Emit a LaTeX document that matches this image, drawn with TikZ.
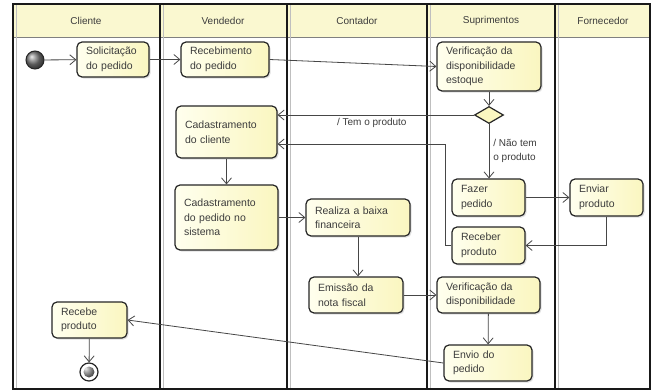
\documentclass[tikz,border=0pt]{standalone}
\usepackage{fontspec}
\setmainfont{Liberation Sans}
\usetikzlibrary{arrows.meta,shapes.geometric,shadows}

\definecolor{laneline}{RGB}{25,25,25}
\definecolor{headfill}{RGB}{250,248,208}
\definecolor{actlight}{RGB}{255,255,238}
\definecolor{actdark}{RGB}{250,246,192}
\definecolor{flowline}{RGB}{70,70,70}
\definecolor{txt}{RGB}{60,60,60}

\begin{document}
\begin{tikzpicture}[x=1pt, y=-1pt,
  act/.style={draw=black!85, line width=1.2pt, rounded corners=5pt,
    left color=actlight, right color=actdark, text=txt, align=left,
    inner xsep=9pt, inner ysep=0pt, font=\fontsize{10.5}{14.5}\selectfont,
    drop shadow={shadow xshift=1.5pt, shadow yshift=-1.5pt, opacity=.25}},
  lanehead/.style={text=txt, font=\fontsize{10}{12}\selectfont},
  lbl/.style={text=txt, font=\fontsize{10}{14}\selectfont, inner sep=1pt},
  flow/.style={draw=flowline, line width=.8pt, -{Straight Barb[length=6pt, width=10pt]}},
  startnode/.style={circle, minimum size=18pt, inner sep=0pt, draw=black!85,
    line width=1pt, shading=ball, ball color=black!50},
  endnode/.style={circle, minimum size=18pt, inner sep=0pt, draw=black!85,
    line width=1.2pt, fill=white, path picture={\shade[ball color=black!50]
    (path picture bounding box.center) circle (5.5pt);}},
  decision/.style={diamond, minimum width=29pt, minimum height=17pt, inner sep=0pt,
    draw=black!85, line width=1.2pt, fill=actdark}]
  \useasboundingbox (0,0) rectangle (654,391);

  % swimlanes
  \fill[white] (13,4) rectangle (650,389);
  \fill[headfill] (13,4) rectangle (650,37);
  \draw[gray] (13,37) -- (650,37);
  \draw[gray!50] (16,4) -- (16,389);
  \draw[gray!50] (163,4) -- (163,389);
  \draw[gray!50] (290,4) -- (290,389);
  \draw[gray!50] (430,4) -- (430,389);
  \draw[gray!50] (558,4) -- (558,389);
  \draw[laneline, line width=1.3pt] (160,4) -- (160,389);
  \draw[laneline, line width=1.3pt] (287,4) -- (287,389);
  \draw[laneline, line width=1.3pt] (427,4) -- (427,389);
  \draw[laneline, line width=1.3pt] (555,4) -- (555,389);
  \draw[laneline, line width=1.3pt] (13,4) rectangle (650,389);

  \node[lanehead] (hcli) at (86,21) {Cliente};
  \node[lanehead] (hven) at (223,21) {Vendedor};
  \node[lanehead] (hcon) at (357,21) {Contador};
  \node[lanehead] (hsup) at (491,21) {Suprimentos};
  \node[lanehead] (hfor) at (603,21) {Fornecedor};

  % activities
  \node[startnode] (ini) at (35,60) {};
  \node[act, text width=54pt, minimum height=35pt] (sol) at (113,59.5) {Solicitação\\do pedido};
  \node[act, text width=70pt, minimum height=35pt] (rec) at (225,59.5) {Recebimento\\do pedido};
  \node[act, text width=86pt, minimum height=49pt] (ver) at (489,66.5) {Verificação da\\disponibilidade\\estoque};
  \node[decision] (dec) at (489,115) {};
  \node[act, text width=83pt, minimum height=52pt] (cadc) at (226.5,132) {Cadastramento\\do cliente};
  \node[act, text width=85pt, minimum height=65pt] (cadp) at (226.5,217.5) {Cadastramento\\do pedido no\\sistema};
  \node[act, text width=86pt, minimum height=37pt] (baixa) at (358,217.5) {Realiza a baixa\\financeira};
  \node[act, text width=55pt, minimum height=37pt] (fazer) at (488.5,197.5) {Fazer\\pedido};
  \node[act, text width=55pt, minimum height=37pt] (enviar) at (606.5,197.5) {Enviar\\produto};
  \node[act, text width=55pt, minimum height=37pt] (receber) at (488.5,245.5) {Receber\\produto};
  \node[act, text width=76pt, minimum height=36pt] (emis) at (356,295) {Emissão da\\nota fiscal};
  \node[act, text width=85pt, minimum height=36pt] (ver2) at (488.5,295) {Verificação da\\disponibilidade};
  \node[act, text width=70pt, minimum height=36pt] (envio) at (488,363) {Envio do\\pedido};
  \node[act, text width=57pt, minimum height=36pt] (rcb) at (89.5,320) {Recebe\\produto};
  \node[endnode] (fim) at (89,372) {};

  \coordinate (volta) at (445,144);

  % flows
  \draw[flow] (ini) -- (sol);
  \draw[flow] (sol) -- (rec);
  \draw[flow] (rec.east) -- (ver.west);
  \draw[flow] (ver) -- (dec);
  \draw[flow] (dec.west) -- (dec.west -| cadc.east)
    node[lbl, below=2pt, pos=.52] {/ Tem o produto};
  \draw[flow] (dec.south) -- (dec.south |- fazer.north)
    node[lbl, right=3pt, pos=.5, align=left] {/ Não tem\\o produto};
  \draw[flow] (fazer) -- (enviar);
  \draw[flow] (enviar.south) |- (receber.east);
  \draw[flow] (receber.west) -| (volta) -- (volta -| cadc.east);
  \draw[flow] (cadc) -- (cadp);
  \draw[flow] (cadp) -- (baixa);
  \draw[flow] (baixa.south) -- (baixa.south |- emis.north);
  \draw[flow] (emis) -- (ver2);
  \draw[flow] (ver2) -- (envio);
  \draw[flow] (envio.west) -- (rcb.east);
  \draw[flow] (rcb) -- (fim);
\end{tikzpicture}
\end{document}
